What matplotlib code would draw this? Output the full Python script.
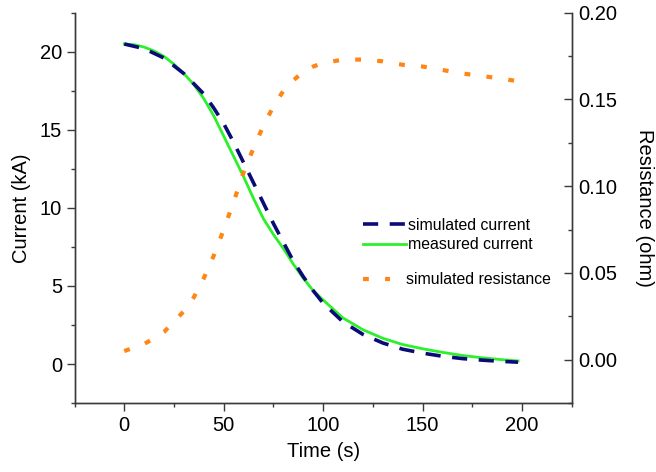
import matplotlib
matplotlib.use("Agg")
import matplotlib.pyplot as plt
from matplotlib.ticker import MultipleLocator

plt.rcParams['font.family'] = ['Liberation Sans', 'DejaVu Sans']

# measured current (kA)
t_meas = [0, 5, 10, 15, 20, 25, 30, 35, 40, 45, 50, 55, 60, 65, 70, 75, 80, 85,
          90, 95, 100, 110, 120, 130, 140, 150, 160, 170, 180, 190, 198]
i_meas = [20.5, 20.45, 20.3, 20.05, 19.7, 19.2, 18.6, 17.9, 17.0, 15.9, 14.6, 13.3,
          12.0, 10.6, 9.3, 8.3, 7.4, 6.4, 5.5, 4.7, 4.1, 2.95, 2.2, 1.65, 1.25,
          0.98, 0.75, 0.55, 0.4, 0.28, 0.2]

# simulated current (kA)
t_sim = [0, 10, 20, 30, 40, 45, 50, 55, 60, 65, 70, 75, 80, 85, 90, 95, 100,
         110, 120, 130, 140, 150, 160, 170, 180, 190, 198]
i_sim = [20.5, 20.2, 19.6, 18.6, 17.3, 16.4, 15.4, 14.2, 12.9, 11.6, 10.3, 9.0,
         7.8, 6.6, 5.6, 4.7, 3.9, 2.7, 1.9, 1.35, 0.95, 0.7, 0.5, 0.35, 0.25,
         0.17, 0.12]

# simulated resistance (ohm)
t_res = [0, 10, 20, 30, 35, 40, 45, 50, 55, 60, 65, 70, 75, 80, 85, 90, 95, 100,
         110, 120, 130, 140, 150, 160, 170, 180, 190, 198]
r_sim = [0.005, 0.009, 0.016, 0.028, 0.036, 0.047, 0.060, 0.075, 0.091, 0.108,
         0.122, 0.135, 0.146, 0.155, 0.161, 0.166, 0.169, 0.171, 0.173, 0.173,
         0.172, 0.170, 0.169, 0.167, 0.165, 0.1635, 0.162, 0.1605]

navy = '#0b0b78'
green = '#2cf02c'
orange = '#ff8514'
spine_c = '#3a3a3a'

fig = plt.figure(figsize=(6.56, 4.72), dpi=100)
ax = fig.add_axes([0.1136, 0.146, 0.758, 0.827])
ax2 = ax.twinx()

l_sim, = ax.plot(t_sim, i_sim, color=navy, lw=2.6, linestyle=(0, (4.2, 3.2)),
                 label='simulated current', zorder=3)
l_meas, = ax.plot(t_meas, i_meas, color=green, lw=2.0, label='measured current', zorder=2)
l_res, = ax2.plot(t_res, r_sim, color=orange, lw=3.0, linestyle=(0, (1.4, 3.9)),
                  label='simulated resistance')

ax.set_xlim(-25, 225)
ax.set_ylim(-2.5, 22.5)
ax2.set_ylim(-0.025, 0.20)

ax.xaxis.set_major_locator(MultipleLocator(50))
ax.xaxis.set_minor_locator(MultipleLocator(25))
ax.yaxis.set_major_locator(MultipleLocator(5))
ax.yaxis.set_minor_locator(MultipleLocator(2.5))
ax2.yaxis.set_major_locator(MultipleLocator(0.05))
ax2.yaxis.set_minor_locator(MultipleLocator(0.025))
ax2.yaxis.set_major_formatter(plt.FormatStrFormatter('%.2f'))

for a in (ax, ax2):
    for s in a.spines.values():
        s.set_color(spine_c)
        s.set_linewidth(1.0)
    a.spines['top'].set_visible(False)

ax.tick_params(which='major', direction='out', length=5.5, width=1.0, color=spine_c,
               labelsize=14.5, pad=3.5)
ax.tick_params(which='minor', direction='out', length=3.2, width=1.0, color=spine_c)
ax2.tick_params(which='major', direction='in', length=5.5, width=1.0, color=spine_c,
                labelsize=14.5, pad=5)
ax2.tick_params(which='minor', direction='in', length=3.2, width=1.0, color=spine_c)

ax.set_xlabel('Time (s)', fontsize=14.5, labelpad=5)
ax.set_ylabel('Current (kA)', fontsize=14.5, labelpad=6)
ax2.set_ylabel('Resistance (ohm)', fontsize=14.5, rotation=270, labelpad=26)

leg1 = ax2.legend(handles=[l_sim, l_meas], loc='center left',
                  bbox_to_anchor=(0.553, 0.502), bbox_transform=fig.transFigure,
                  frameon=False, fontsize=11.4, handlelength=2.7, handletextpad=0.15,
                  labelspacing=0.3, borderpad=0, borderaxespad=0)
ax2.add_artist(leg1)
ax2.legend(handles=[l_res], loc='center left',
           bbox_to_anchor=(0.553, 0.407), bbox_transform=fig.transFigure,
           frameon=False, fontsize=11.4, handlelength=1.75, handletextpad=1.0,
           borderpad=0, borderaxespad=0)

fig.savefig('out.png', dpi=100)
